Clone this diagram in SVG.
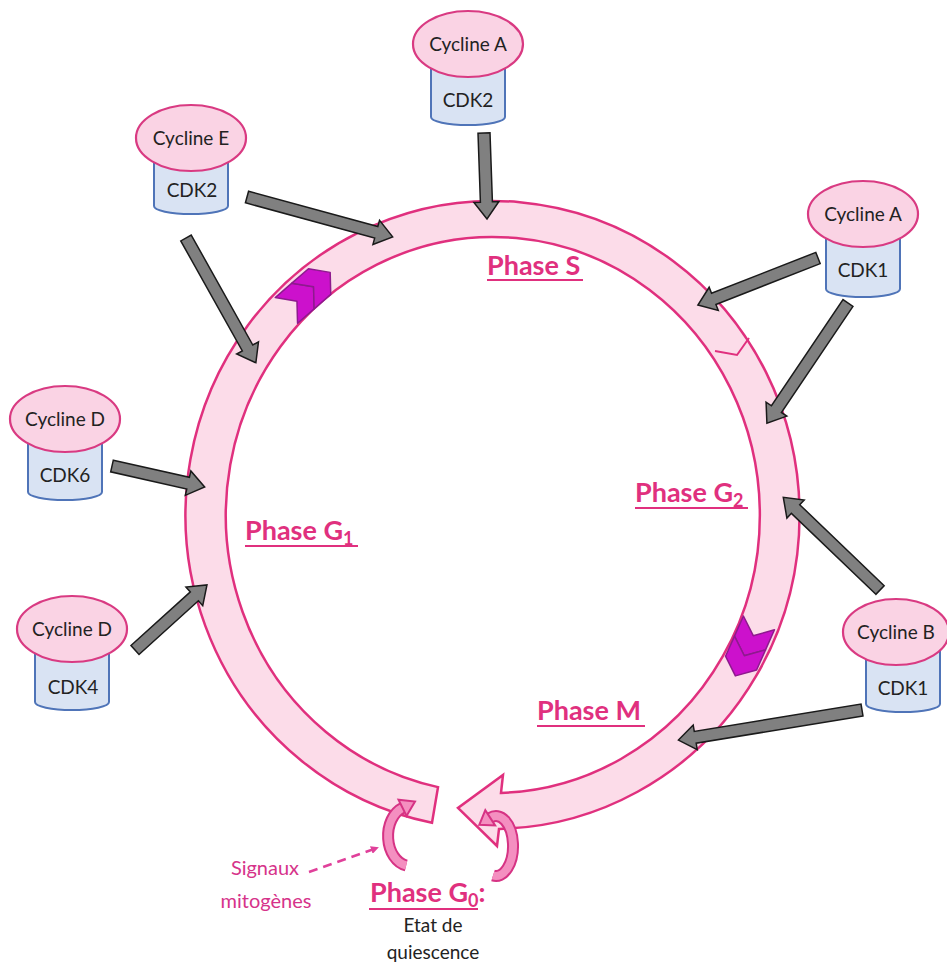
<svg xmlns="http://www.w3.org/2000/svg" width="947" height="965" viewBox="0 0 947 965">
<defs>
<style>
.ring{fill:#FCDCE9;stroke:#E0307E;stroke-width:2.5;stroke-linejoin:miter}
.cap{fill:#FAD3E4;stroke:#D93A82;stroke-width:2.2}
.body{fill:#D9E3F3;stroke:#4F74B8;stroke-width:2}
.nt{font-family:Lato,"Liberation Sans",sans-serif;font-size:19px;fill:#222;text-anchor:middle}
.ga{fill:#808080;stroke:#1a1a1a;stroke-width:1.5}
.ph{font-family:Lato,"Liberation Sans",sans-serif;font-weight:bold;font-size:27px;fill:#E0307E}
.ul{stroke:#E0307E;stroke-width:2.2}
.chev{fill:#CC11CC;stroke:#8E1A8E;stroke-width:1.5;stroke-linejoin:round}
.notch{fill:none;stroke:#E0307E;stroke-width:2}
.g0o{fill:none;stroke:#D63384;stroke-width:12}
.g0i{fill:none;stroke:#F48FC0;stroke-width:8}
.g0h{fill:#F48FC0;stroke:#D63384;stroke-width:2;stroke-linejoin:miter}
.sig{font-family:Lato,"Liberation Sans",sans-serif;font-size:20px;fill:#D6338A;text-anchor:middle}
.blk{font-family:Lato,"Liberation Sans",sans-serif;font-size:19px;fill:#222;text-anchor:middle}
.dash{fill:none;stroke:#E0409A;stroke-width:2.5;stroke-dasharray:9 6}
</style>
<marker id="mh" markerWidth="8" markerHeight="8" refX="6" refY="4" orient="auto" markerUnits="userSpaceOnUse" viewBox="0 0 8 8">
<path d="M0,0 L8,4 L0,8 Z" fill="#E0409A"/>
</marker>
</defs>
<rect width="947" height="965" fill="#ffffff"/>

<g id="cycle-ring">
<path class="ring" d="M432,822.8 A307,314 0 1 1 499,828.9 L497,846 L458,808 L503,775 L501,792.9 A267,278 0 1 0 438,787.1 Z"/>
<polyline class="notch" points="715,351 737,355 749,338"/>
<g id="chevrons-g1" transform="translate(303,296) rotate(-41)">
<polygon class="chev" points="-22,-17 0,-17 14,0 0,17 -22,17 -8,0"/>
<polygon class="chev" points="0,-17 22,-17 36,0 22,17 0,17 14,0"/>
</g>
<g id="chevrons-g2" transform="translate(750,643) rotate(114)">
<polygon class="chev" points="-22,-17 0,-17 14,0 0,17 -22,17 -8,0"/>
<polygon class="chev" points="0,-17 22,-17 36,0 22,17 0,17 14,0"/>
</g>
</g>

<g id="g0-arrows">
<path class="g0o" d="M406.2,865.5 A22,30 0 0 1 402.5,807.8"/>
<path class="g0i" d="M406.2,865.5 A22,30 0 0 1 402.5,807.8"/>
<polygon class="g0h" points="406.5,815.9 398.5,799.7 415,801.6"/>
<path class="g0o" d="M493,875.5 A17,30 0 1 0 490.2,817.8"/>
<path class="g0i" d="M493,875.5 A17,30 0 1 0 490.2,817.8"/>
<polygon class="g0h" points="495.1,825.4 485.3,810.2 479.3,824.8"/>
</g>

<g id="labels">
<text class="ph" x="487" y="275">Phase S</text>
<line class="ul" x1="487" y1="280" x2="583" y2="280"/>
<text class="ph" x="635" y="502">Phase G<tspan font-size="18" dy="5">2</tspan></text>
<line class="ul" x1="635" y1="508" x2="748" y2="508"/>
<text class="ph" x="245" y="540">Phase G<tspan font-size="18" dy="5">1</tspan></text>
<line class="ul" x1="245" y1="546" x2="358" y2="546"/>
<text class="ph" x="537" y="720">Phase M</text>
<line class="ul" x1="537" y1="726" x2="645" y2="726"/>
<text class="ph" x="370" y="902">Phase G<tspan font-size="18" dy="5">0</tspan><tspan dy="-5">:</tspan></text>
<line class="ul" x1="369" y1="909" x2="478" y2="909"/>
<text class="blk" x="433" y="932">Etat de</text>
<text class="blk" x="433" y="959">quiescence</text>
<text class="sig" x="265" y="875">Signaux</text>
<text class="sig" x="266" y="908">mitogènes</text>
</g>

<g id="connectors">
<path class="dash" d="M309,872 L377,848" marker-end="url(#mh)"/>
<path class="ga" transform="translate(484,133) rotate(88)" d="M0,-6 H69 V-12.5 L86,0 L69,12.5 V6 H0 Z"/>
<path class="ga" transform="translate(247,197) rotate(15.3)" d="M0,-6 H134 V-12.5 L151,0 L134,12.5 V6 H0 Z"/>
<path class="ga" transform="translate(186,238) rotate(60.75)" d="M0,-6 H126 V-12.5 L143,0 L126,12.5 V6 H0 Z"/>
<path class="ga" transform="translate(818,258) rotate(158.6)" d="M0,-6 H112 V-12.5 L129,0 L112,12.5 V6 H0 Z"/>
<path class="ga" transform="translate(848,303) rotate(124)" d="M0,-6 H128 V-12.5 L145,0 L128,12.5 V6 H0 Z"/>
<path class="ga" transform="translate(880,590) rotate(-136.2)" d="M0,-6 H117 V-12.5 L134,0 L117,12.5 V6 H0 Z"/>
<path class="ga" transform="translate(862,710) rotate(170.7)" d="M0,-6 H169 V-12.5 L186,0 L169,12.5 V6 H0 Z"/>
<path class="ga" transform="translate(112,466) rotate(12.7)" d="M0,-6 H78 V-12.5 L95,0 L78,12.5 V6 H0 Z"/>
<path class="ga" transform="translate(135,650) rotate(-42.1)" d="M0,-6 H80 V-12.5 L97,0 L80,12.5 V6 H0 Z"/>
</g>

<g id="node-cyclineA-cdk2">
<path class="body" d="M431,44 V117 A37,8 0 0 0 505,117 V44 Z"/>
<ellipse class="cap" cx="468" cy="44" rx="55" ry="33"/>
<text class="nt" x="468" y="51">Cycline A</text>
<text class="nt" x="468" y="107">CDK2</text>
</g>
<g id="node-cyclineE-cdk2">
<path class="body" d="M154,138 V206 A37,8 0 0 0 228,206 V138 Z"/>
<ellipse class="cap" cx="191" cy="138" rx="55" ry="33"/>
<text class="nt" x="191" y="145">Cycline E</text>
<text class="nt" x="192" y="197">CDK2</text>
</g>
<g id="node-cyclineA-cdk1">
<path class="body" d="M826,214 V289 A37,8 0 0 0 900,289 V214 Z"/>
<ellipse class="cap" cx="863" cy="214" rx="55" ry="33"/>
<text class="nt" x="863" y="221">Cycline A</text>
<text class="nt" x="863" y="277">CDK1</text>
</g>
<g id="node-cyclineD-cdk6">
<path class="body" d="M28,419 V492 A37,8 0 0 0 102,492 V419 Z"/>
<ellipse class="cap" cx="65" cy="419" rx="55" ry="33"/>
<text class="nt" x="65" y="426">Cycline D</text>
<text class="nt" x="65" y="482">CDK6</text>
</g>
<g id="node-cyclineD-cdk4">
<path class="body" d="M35,629 V702 A37,8 0 0 0 109,702 V629 Z"/>
<ellipse class="cap" cx="72" cy="629" rx="55" ry="33"/>
<text class="nt" x="72" y="636">Cycline D</text>
<text class="nt" x="73" y="694">CDK4</text>
</g>
<g id="node-cyclineB-cdk1">
<path class="body" d="M866,632 V704 A37,8 0 0 0 940,704 V632 Z"/>
<ellipse class="cap" cx="896" cy="632" rx="53" ry="33"/>
<text class="nt" x="896" y="639">Cycline B</text>
<text class="nt" x="903" y="695">CDK1</text>
</g>
</svg>
